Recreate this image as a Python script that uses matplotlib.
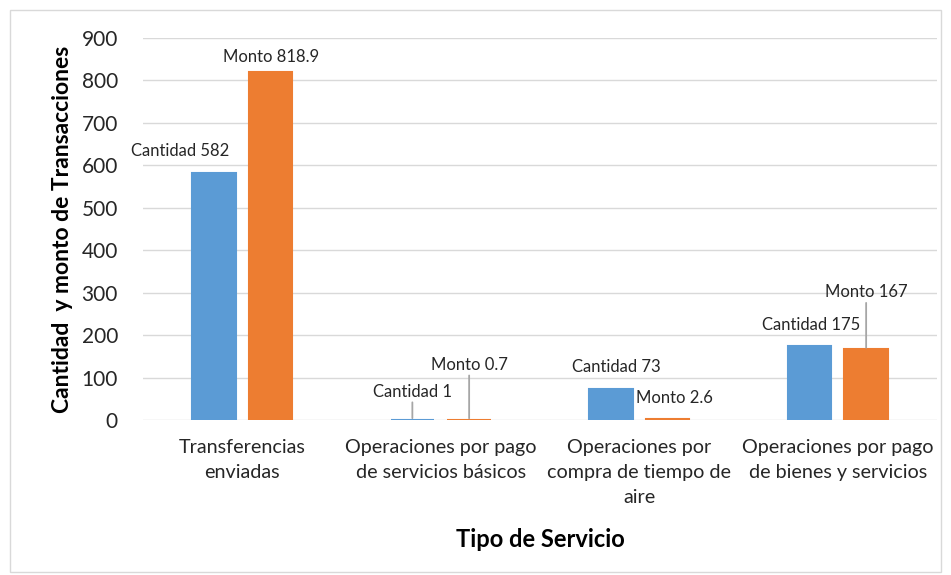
import matplotlib
matplotlib.use("Agg")
import matplotlib.pyplot as plt
import numpy as np
from matplotlib.patches import Rectangle

plt.rcParams['font.family'] = ['Lato', 'DejaVu Sans']

categories = ["Transferencias\nenviadas",
              "Operaciones por pago\nde servicios básicos",
              "Operaciones por\ncompra de tiempo de\naire",
              "Operaciones por pago\nde bienes y servicios"]
cantidad = [582, 1, 73, 175]
monto = [818.9, 0.7, 2.6, 167]
cantidad_labels = ["Cantidad 582", "Cantidad 1", "Cantidad 73", "Cantidad 175"]
monto_labels = ["Monto 818.9", "Monto 0.7", "Monto 2.6", "Monto 167"]
yticks = [0, 100, 200, 300, 400, 500, 600, 700, 800, 900]

W, H = 951, 575
fig = plt.figure(figsize=(W/100, H/100), dpi=100)
fig.patches.append(Rectangle((10/W, 3/H), 931/W, 562/H, transform=fig.transFigure,
                             fill=False, edgecolor='#d9d9d9', linewidth=1))
ax = fig.add_axes([143/W, 1-420/H, 794/W, 382/H])

x = np.arange(len(categories))
bw = 0.218
off = 0.143
blue = '#5B9BD5'
orange = '#ED7D31'
ax.bar(x - off, cantidad, bw, color=blue, edgecolor=blue, linewidth=1.5, zorder=3)
ax.bar(x + off, monto, bw, color=orange, edgecolor=orange, linewidth=1.5, zorder=3)

ax.set_xlim(-0.5, 3.5)
ax.set_ylim(0, 900)
ax.set_yticks(yticks)
ax.set_xticks(x)
ax.set_xticklabels(categories, fontsize=14.2, linespacing=1.55, color='#262626')
ax.tick_params(axis='y', labelsize=15, length=0, pad=18, labelcolor='#262626')
ax.tick_params(axis='x', length=0, pad=14)
ax.grid(axis='y', color='#d9d9d9', linewidth=1, zorder=0)
for s in ['top', 'right', 'left', 'bottom']:
    ax.spines[s].set_visible(False)
ax.set_ylabel("Cantidad  y monto de Transacciones", fontsize=16.5, fontweight='bold', labelpad=6)
ax.set_xlabel("Tipo de Servicio", fontsize=17, fontweight='bold', labelpad=16)

# label offsets in pixels (dx, dy) and whether to draw leader line
c_off = [(-34, 22, False), (0, 28, True), (5, 22, False), (2, 21, False)]
m_off = [(0, 15, False), (0, 55, True), (7, 21, False), (0, 57, True)]
lead = dict(arrowstyle='-', color='#a6a6a6', lw=1.3, shrinkA=0, shrinkB=1)
for i in range(len(categories)):
    for vals, labels, offs, sgn in [(cantidad, cantidad_labels, c_off, -1), (monto, monto_labels, m_off, 1)]:
        dx, dy, ln = offs[i]
        ax.annotate(labels[i], xy=(x[i] + sgn*off, vals[i]), xytext=(dx, dy),
                    textcoords='offset pixels', ha='center', va='center', fontsize=12,
                    color='#262626', zorder=5,
                    arrowprops=lead if ln else None)

fig.savefig("out.png", dpi=100)
